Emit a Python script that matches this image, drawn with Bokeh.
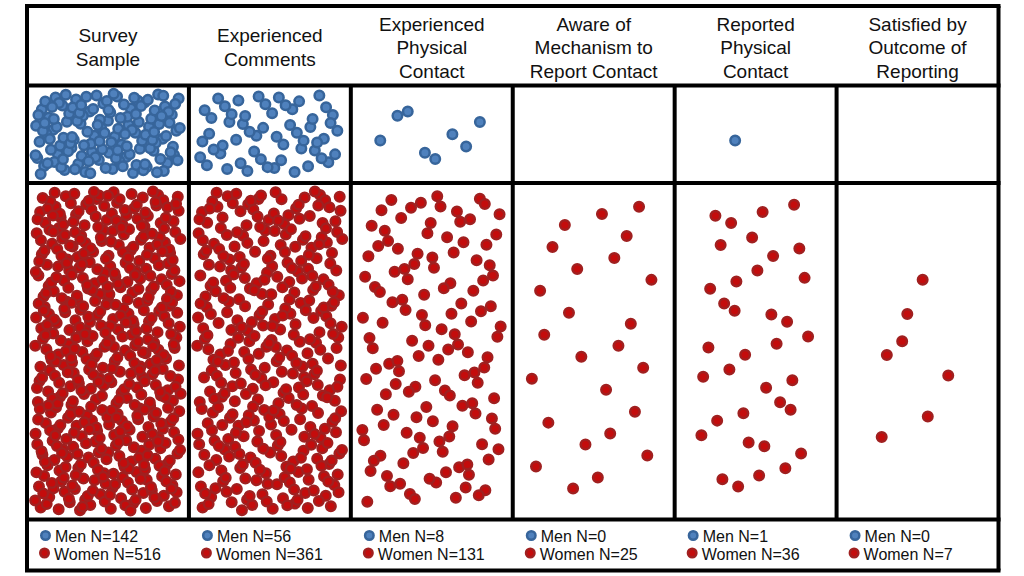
from bokeh.plotting import figure
from bokeh.models import Range1d
from bokeh.core.properties import value
from bokeh.embed import file_html
from bokeh.resources import INLINE
import numpy as np

# ---------------- data ----------------
categories = [
    "Survey\nSample",
    "Experienced\nComments",
    "Experienced\nPhysical\nContact",
    "Aware of\nMechanism to\nReport Contact",
    "Reported\nPhysical\nContact",
    "Satisfied by\nOutcome of\nReporting",
]
men_n = [142, 56, 8, 0, 1, 0]
women_n = [516, 361, 131, 25, 36, 7]

# ---------------- layout / style ----------------
FONT = value("Liberation Sans")
BLUE_FILL, BLUE_LINE = "#4f81bd", "#37659b"
RED_FILL, RED_LINE = "#c40c0c", "#a02020"

col_edges = np.linspace(26.5, 998, 7)
row_edges = [5.5, 85, 182.5, 519, 570]   # header | men | women | legend

# inner padding of the dot area per panel (x pad, top pad, bottom pad)
men_pad = [(8, 8, 8), (9, 9, 9), (26, 22, 20), (20, 20, 20), (40, 30, 30), (20, 20, 20)]
women_pad = [(8, 8, 8), (8, 8, 8), (11, 12, 14), (15, 20, 20), (25, 18, 22), (40, 90, 62)]
men_start = [1, 7, 11, 1, 2, 1]
women_start = [1, 23, 5, 3, 9, 4]


def halton(index, base):
    f, r, i = 1.0, 0.0, index
    while i > 0:
        f /= base
        r += f * (i % base)
        i //= base
    return r


def place(n, x0, x1, y0, y1, pad, start):
    px, pt, pb = pad
    xs, ys = [], []
    for k in range(n):
        u = halton(start + k, 2)
        v = halton(start + k, 3)
        xs.append(x0 + px + (x1 - x0 - 2 * px) * u)
        ys.append(y0 + pt + (y1 - y0 - pt - pb) * v)
    return xs, ys


p = figure(width=1024, height=576, x_range=Range1d(0, 1024), y_range=Range1d(576, 0),
           output_backend="svg", toolbar_location=None, min_border=0)
p.axis.visible = False
p.grid.visible = False
p.outline_line_color = None
p.background_fill_color = "white"

# ---------------- dots ----------------
mx, my, wx, wy = [], [], [], []
for c in range(6):
    x0, x1 = col_edges[c], col_edges[c + 1]
    xs, ys = place(men_n[c], x0, x1, row_edges[1], row_edges[2], men_pad[c], men_start[c])
    mx += xs; my += ys
    xs, ys = place(women_n[c], x0, x1, row_edges[2], row_edges[3], women_pad[c], women_start[c])
    wx += xs; wy += ys

p.scatter(wx, wy, size=9.5, fill_color=RED_FILL, line_color=RED_LINE, line_width=2.5)
p.scatter(mx, my, size=9.5, fill_color=BLUE_FILL, line_color=BLUE_LINE, line_width=2.5)

# ---------------- grid lines ----------------
LW = 4
x0s, y0s, x1s, y1s = [], [], [], []
for y in row_edges:
    x0s.append(col_edges[0] - LW / 2); x1s.append(col_edges[-1] + LW / 2); y0s.append(y); y1s.append(y)
for x in [col_edges[0], col_edges[-1]]:
    x0s.append(x); x1s.append(x); y0s.append(row_edges[0]); y1s.append(row_edges[-1])
for x in col_edges[1:-1]:
    x0s.append(x); x1s.append(x); y0s.append(row_edges[1]); y1s.append(row_edges[3])
p.segment(x0s, y0s, x1s, y1s, line_color="black", line_width=LW)

# ---------------- header texts ----------------
hx, hy, ht = [], [], []
LINE_H = 23.5
for c, cat in enumerate(categories):
    lines = cat.split("\n")
    cx = (col_edges[c] + col_edges[c + 1]) / 2
    n = len(lines)
    for i, t in enumerate(lines):
        hx.append(cx)
        hy.append(47 + (i - (n - 1) / 2) * LINE_H)
        ht.append(t)
p.text(hx, hy, ht, text_font=FONT, text_font_size="19px", text_align="center",
       text_baseline="middle", text_color="#111111")

# ---------------- legend row ----------------
lx_dot = [col_edges[c] + 18.5 for c in range(6)]
lx_txt = [col_edges[c] + 28 for c in range(6)]
p.scatter(lx_dot, [535] * 6, size=8.5, fill_color=BLUE_FILL, line_color=BLUE_LINE, line_width=2.5)
p.scatter([x - 1 for x in lx_dot], [552.5] * 6, size=8.5, fill_color=RED_FILL, line_color=RED_LINE, line_width=2.5)
p.text(lx_txt, [535.5] * 6, [f"Men N={m}" for m in men_n], text_font=FONT, text_font_size="16px",
       text_align="left", text_baseline="middle", text_color="#111111")
p.text([x - 1 for x in lx_txt], [553.5] * 6, [f"Women N={w}" for w in women_n], text_font=FONT,
       text_font_size="16px", text_align="left", text_baseline="middle", text_color="#111111")

open("out.html", "w").write(file_html(p, INLINE))
